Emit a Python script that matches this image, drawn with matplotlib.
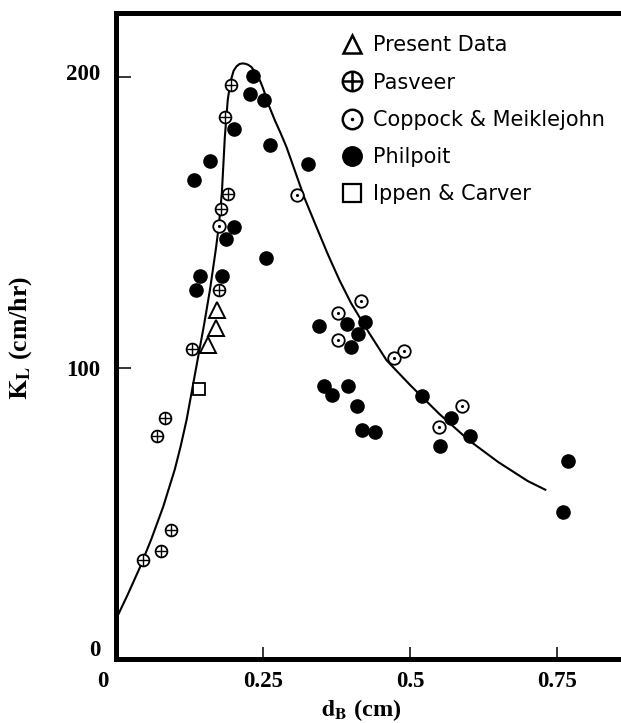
import matplotlib
matplotlib.use("Agg")
import matplotlib.pyplot as plt
import matplotlib.transforms as mtransforms
from matplotlib.lines import Line2D

# fitted curve
curve_d = [0, 0.02, 0.04, 0.06, 0.08, 0.10, 0.11, 0.12, 0.13, 0.14, 0.15, 0.16,
           0.17, 0.175, 0.18, 0.185, 0.19, 0.195, 0.20, 0.205, 0.21, 0.215, 0.22,
           0.225, 0.23, 0.235, 0.24, 0.245, 0.25, 0.26, 0.27, 0.28, 0.29, 0.30,
           0.32, 0.34, 0.36, 0.38, 0.40, 0.43, 0.46, 0.50, 0.55, 0.60, 0.65, 0.70, 0.73]
curve_k = [13.5, 22, 31, 41, 52, 65, 73, 82, 93, 104, 115, 127,
           141, 149, 160, 179, 192, 198.5, 202, 203.5, 204.3, 204.5, 204.4,
           204, 203.3, 202, 200.5, 198.5, 196, 190, 185, 180.5, 175.7, 170,
           158.5, 148.7, 139, 130, 122, 112, 102.5, 94, 84, 75, 67.5, 61, 58]

present_d = [0.171, 0.170, 0.157]
present_k = [119.6, 113.5, 107.8]

pasveer_d = [0.196, 0.185, 0.190, 0.179, 0.175, 0.130, 0.083, 0.070, 0.093, 0.076, 0.046]
pasveer_k = [197, 186, 159.7, 154.5, 126.8, 106.4, 82.7, 76.4, 44, 36.8, 34]

coppock_d = [0.175, 0.307, 0.417, 0.378, 0.378, 0.472, 0.490, 0.588, 0.549]
coppock_k = [148.6, 159.3, 123, 118.7, 109.6, 103.2, 105.8, 86.7, 79.5]

philpoit_d = [0.233, 0.228, 0.252, 0.200, 0.262, 0.160, 0.326, 0.133, 0.200, 0.187,
              0.255, 0.143, 0.181, 0.136, 0.346, 0.392, 0.423, 0.412, 0.400, 0.354,
              0.368, 0.395, 0.409, 0.419, 0.440, 0.520, 0.570, 0.602, 0.551, 0.768, 0.760]
philpoit_k = [200.3, 194, 192, 182, 176.6, 171, 170, 164.5, 148.2, 144,
              137.6, 131.3, 131.3, 126.5, 114.4, 115, 115.8, 111.6, 107, 93.8,
              90.7, 93.8, 86.9, 78.4, 78, 90.1, 82.6, 76.6, 73, 68, 50.5]

ippen_d = [0.141]
ippen_k = [92.7]

labels = ["Present Data", "Pasveer", "Coppock & Meiklejohn", "Philpoit", "Ippen & Carver"]

plt.rcParams['mathtext.fontset'] = 'stix'
serif = 'Liberation Serif'

fig = plt.figure(figsize=(6.21, 7.23), dpi=100)
ax = fig.add_axes([0.1868, 0.0892, 0.8277, 0.8935])

ax.plot(curve_d, curve_k, color='black', lw=1.5, zorder=2, solid_joinstyle='round')

ax.plot(present_d, present_k, ls='none', marker='^', ms=11, mfc='white', mec='black', mew=1.4, zorder=3)
ax.plot(pasveer_d, pasveer_k, ls='none', marker='o', ms=8.5, mfc='white', mec='black', mew=1.3, zorder=3)
ax.plot(pasveer_d, pasveer_k, ls='none', marker='+', ms=8.5, color='black', mew=1.0, zorder=4)
ax.plot(coppock_d, coppock_k, ls='none', marker='o', ms=9, mfc='white', mec='black', mew=1.3, zorder=3)
ax.plot(coppock_d, coppock_k, ls='none', marker='.', ms=2.5, color='black', zorder=4)
ax.plot(philpoit_d, philpoit_k, ls='none', marker='o', ms=9.5, color='black', zorder=3)
ax.plot(ippen_d, ippen_k, ls='none', marker='s', ms=9, mfc='white', mec='black', mew=1.3, zorder=3)

ax.set_xlim(0, 0.874)
ax.set_ylim(0, 222)

for side in ['left', 'bottom', 'top']:
    ax.spines[side].set_linewidth(3.6)
ax.spines['right'].set_visible(False)

ax.set_xticks([0, 0.25, 0.5, 0.75])
ax.set_xticklabels(['0', '0.25', '0.5', '0.75'])
ax.set_yticks([0, 100, 200])
ax.set_yticklabels(['0', '100', '200'])
ax.tick_params(axis='x', direction='in', length=9, width=1.1, pad=9)
ax.tick_params(axis='y', direction='in', length=11, width=1.1, pad=11)
for lab in ax.get_xticklabels() + ax.get_yticklabels():
    lab.set_fontfamily(serif)
    lab.set_fontweight('bold')
    lab.set_fontsize(16.5)

ax.set_xlabel(r'$\mathbf{d}_{\mathbf{B}}$ (cm)', fontfamily=serif, fontweight='bold', fontsize=17.5)
ax.set_ylabel(r'$\mathbf{K}_{\mathbf{L}}$ (cm/hr)', fontfamily=serif, fontweight='bold', fontsize=18.5)
ax.xaxis.set_label_coords(0.477, -0.06)
ax.yaxis.set_label_coords(-0.16, 0.496)

# legend
h_tri = Line2D([], [], ls='none', marker='^', ms=13, mfc='white', mec='black', mew=1.8)
h_pas = (Line2D([], [], ls='none', marker='o', ms=14, mfc='white', mec='black', mew=1.8),
         Line2D([], [], ls='none', marker='+', ms=14, color='black', mew=1.8))
h_cop = (Line2D([], [], ls='none', marker='o', ms=14, mfc='white', mec='black', mew=1.8),
         Line2D([], [], ls='none', marker='.', ms=3, color='black'))
h_phi = Line2D([], [], ls='none', marker='o', ms=14, color='black')
h_ipp = Line2D([], [], ls='none', marker='s', ms=13, mfc='white', mec='black', mew=1.6)
ax.legend([h_tri, h_pas, h_cop, h_phi, h_ipp], labels,
          loc='upper left', bbox_to_anchor=(0.5462, 0.9513), bbox_transform=fig.transFigure,
          frameon=False, borderpad=0, borderaxespad=0, handlelength=1.2,
          handletextpad=0.44, labelspacing=0.83,
          prop={'family': 'DejaVu Sans', 'size': 15})

# the zero labels sit off the axes corner in the original
t0 = ax.xaxis.get_major_ticks()[0].label1
t0.set_transform(t0.get_transform() + mtransforms.ScaledTranslation(-0.13, 0, fig.dpi_scale_trans))
t0 = ax.yaxis.get_major_ticks()[0].label1
t0.set_transform(t0.get_transform() + mtransforms.ScaledTranslation(0, 0.11, fig.dpi_scale_trans))
t2 = ax.yaxis.get_major_ticks()[2].label1
t2.set_transform(t2.get_transform() + mtransforms.ScaledTranslation(0, 0.05, fig.dpi_scale_trans))

fig.savefig("out.png", dpi=100)
